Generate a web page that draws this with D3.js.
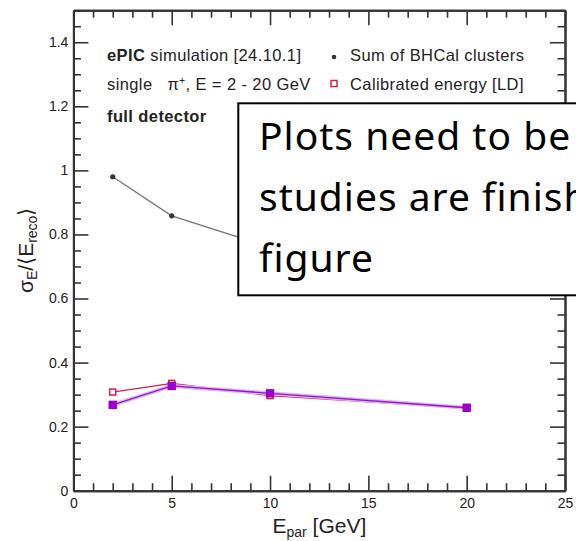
<!DOCTYPE html>
<html lang="en">
	<head>
		<meta charset="utf-8">
		<title>Resolution</title>
		<script type="text/javascript" src="https://cdn.jsdelivr.net/npm/d3@7"></script>
		<style type="text/css">
			body { margin: 0; background: #fff; }
			svg { display: block; }
			.tick text { font-family: 'Liberation Sans', Arial, sans-serif; font-size: 14px; fill: #222; }
			.axis path, .axis line { stroke: #333; }
		</style>
	</head>
	<body>
		<script type="text/javascript">
			// data
			var energies = [2, 5, 10, 20];
			var sumClusters = [0.980, 0.858, 0.760, 0.700];
			var calibLD = [0.308, 0.335, 0.297, 0.258];
			var calibOther = [0.268, 0.327, 0.304, 0.259];

			var xMajor = [0, 5, 10, 15, 20, 25];
			var xLabels = ['0', '5', '10', '15', '20', '25'];
			var yMajor = [0, 0.2, 0.4, 0.6, 0.8, 1, 1.2, 1.4];
			var yLabels = ['0', '0.2', '0.4', '0.6', '0.8', '1', '1.2', '1.4'];

			var w = 576;
			var h = 541;
			var margin = {'left': 73.4, 'right': 11, 'top': 10.2, 'bottom': 50.3};

			var svg = d3.select('body').append('svg').attr('width', w).attr('height', h);

			var xScale = d3.scaleLinear().domain([0, 25]).range([margin.left, w - margin.right]);
			var yScale = d3.scaleLinear().domain([0, 1.5]).range([h - margin.bottom, margin.top]);

			var xMinor = d3.range(0, 25.01, 1).filter(function(d) { return d % 5 != 0; });
			var yMinor = d3.range(0, 1.501, 0.05).filter(function(d) { return Math.abs(d*5 - Math.round(d*5)) > 0.01; });

			function drawAxis(axis, tx, ty) {
				var g = svg.append('g').attr('class', 'axis')
					.attr('transform', 'translate(' + tx + ',' + ty + ')')
					.call(axis);
				g.selectAll('line').attr('stroke-width', 1.6);
				g.select('.domain').attr('stroke-width', 2);
				return g;
			}

			var x0 = margin.left, x1 = w - margin.right;
			var y0 = h - margin.bottom, y1 = margin.top;

			// bottom
			drawAxis(d3.axisBottom(xScale).tickValues(xMinor).tickSize(-7.5).tickSizeOuter(0).tickFormat(''), 0, y0);
			drawAxis(d3.axisBottom(xScale).tickValues(xMajor).tickSize(-15).tickSizeOuter(0).tickPadding(7)
				.tickFormat(function(d, i) { return xLabels[i]; }), 0, y0);
			// top
			drawAxis(d3.axisTop(xScale).tickValues(xMinor).tickSize(-7.5).tickSizeOuter(0).tickFormat(''), 0, y1);
			drawAxis(d3.axisTop(xScale).tickValues(xMajor).tickSize(-15).tickSizeOuter(0).tickFormat(''), 0, y1);
			// left
			drawAxis(d3.axisLeft(yScale).tickValues(yMinor).tickSize(-7.5).tickSizeOuter(0).tickFormat(''), x0, 0);
			drawAxis(d3.axisLeft(yScale).tickValues(yMajor).tickSize(-15).tickSizeOuter(0).tickPadding(5)
				.tickFormat(function(d, i) { return yLabels[i]; }), x0, 0);
			// right
			drawAxis(d3.axisRight(yScale).tickValues(yMinor).tickSize(-7.5).tickSizeOuter(0).tickFormat(''), x1, 0);
			drawAxis(d3.axisRight(yScale).tickValues(yMajor).tickSize(-15).tickSizeOuter(0).tickFormat(''), x1, 0);

			var line = function(vals) {
				return d3.line()
					.x(function(d, i) { return xScale(energies[i]); })
					.y(function(d) { return yScale(d); })(vals);
			};

			// sum of clusters
			svg.append('path').attr('d', line(sumClusters)).attr('fill', 'none')
				.attr('stroke', '#777').attr('stroke-width', 1.3);
			svg.selectAll('.dot').data(sumClusters).enter().append('circle')
				.attr('cx', function(d, i) { return xScale(energies[i]); })
				.attr('cy', function(d) { return yScale(d); })
				.attr('r', 2.6).attr('fill', '#333');

			// calibrated [LD]
			svg.append('path').attr('d', line(calibLD)).attr('fill', 'none')
				.attr('stroke', '#d81e4a').attr('stroke-width', 1.3);
			svg.selectAll('.sqr').data(calibLD).enter().append('rect')
				.attr('x', function(d, i) { return xScale(energies[i]) - 3; })
				.attr('y', function(d) { return yScale(d) - 3; })
				.attr('width', 6).attr('height', 6)
				.attr('fill', '#fff').attr('stroke', '#d81e4a').attr('stroke-width', 1.5);

			// purple series
			svg.append('path').attr('d', line(calibOther)).attr('fill', 'none')
				.attr('stroke', '#dcb8f0').attr('stroke-width', 4);
			svg.append('path').attr('d', line(calibOther)).attr('fill', 'none')
				.attr('stroke', '#9a10d0').attr('stroke-width', 1.3);
			svg.selectAll('.fsq').data(calibOther).enter().append('rect')
				.attr('x', function(d, i) { return xScale(energies[i]) - 4.2; })
				.attr('y', function(d) { return yScale(d) - 4.2; })
				.attr('width', 8.4).attr('height', 8.4)
				.attr('fill', '#9a00cc');

			// legend text
			var font = "'Liberation Sans', Arial, sans-serif";
			var lfs = 16.5, lls = 0.4;
			var t1 = svg.append('text').attr('x', 107).attr('y', 61).attr('font-family', font)
				.attr('font-size', lfs).attr('letter-spacing', lls).attr('fill', '#222');
			t1.append('tspan').attr('font-weight', 'bold').text('ePIC');
			t1.append('tspan').text(' simulation [24.10.1]');

			var t2 = svg.append('text').attr('x', 107).attr('y', 90).attr('font-family', font)
				.attr('font-size', lfs).attr('letter-spacing', lls).attr('fill', '#222').attr('xml:space', 'preserve');
			t2.append('tspan').text('single   \u03c0');
			t2.append('tspan').attr('font-size', 10).attr('dy', -6).text('+');
			t2.append('tspan').attr('dy', 6).text(', E = 2 - 20 GeV');

			svg.append('text').attr('x', 107).attr('y', 121.5).attr('font-family', font)
				.attr('font-size', lfs).attr('letter-spacing', lls).attr('font-weight', 'bold').attr('fill', '#222').text('full detector');

			svg.append('circle').attr('cx', 334).attr('cy', 57).attr('r', 2.3).attr('fill', '#333');
			svg.append('text').attr('x', 350).attr('y', 61).attr('font-family', font)
				.attr('font-size', lfs).attr('letter-spacing', lls).attr('fill', '#222').text('Sum of BHCal clusters');
			svg.append('rect').attr('x', 331).attr('y', 80.5).attr('width', 6).attr('height', 6)
				.attr('fill', '#fff').attr('stroke', '#d81e4a').attr('stroke-width', 1.5);
			svg.append('text').attr('x', 350).attr('y', 90).attr('font-family', font)
				.attr('font-size', lfs).attr('letter-spacing', lls).attr('fill', '#222').text('Calibrated energy [LD]');

			// axis titles
			var xt = svg.append('text').attr('x', 272.5).attr('y', 533).attr('font-family', font)
				.attr('font-size', 21).attr('fill', '#222');
			xt.append('tspan').text('E');
			xt.append('tspan').attr('font-size', 14).attr('dy', 4).text('par');
			xt.append('tspan').attr('dy', -4).text(' [GeV]');

			var yt = svg.append('text').attr('transform', 'translate(33,293) rotate(-90)')
				.attr('font-family', font).attr('font-size', 21).attr('fill', '#222');
			yt.append('tspan').text('\u03c3');
			yt.append('tspan').attr('font-size', 14).attr('dy', 4).text('E');
			yt.append('tspan').attr('dy', -4).text('/\u27e8E');
			yt.append('tspan').attr('font-size', 14).attr('dy', 4).text('reco');
			yt.append('tspan').attr('dy', -4).text('\u27e9');

			// overlay note box
			svg.append('rect').attr('x', 238.3).attr('y', 103.3).attr('width', 360).attr('height', 192)
				.attr('fill', '#fff').attr('stroke', '#000').attr('stroke-width', 2);
			var notes = ['Plots need to be updated once', 'studies are finished for the', 'figure'];
			svg.selectAll('.note').data(notes).enter().append('text')
				.attr('x', 259).attr('y', function(d, i) { return 150 + i * 61; })
				.attr('font-family', "'Noto Sans', sans-serif").attr('font-size', 39).attr('letter-spacing', 1)
				.attr('fill', '#000')
				.text(function(d) { return d; });
		</script>
	</body>
</html>
